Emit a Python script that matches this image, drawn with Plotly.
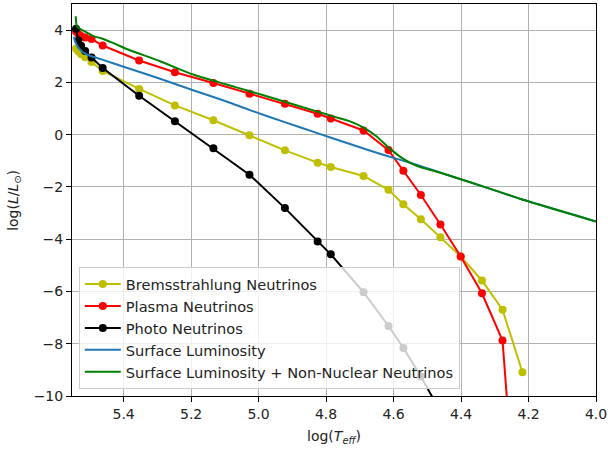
import plotly.graph_objects as go

# log(Teff) sample points of the neutrino series
logT = [5.541, 5.534, 5.526, 5.514, 5.495, 5.462, 5.354, 5.248, 5.134, 5.027,
        4.922, 4.825, 4.786, 4.689, 4.615, 4.571, 4.519, 4.461, 4.401, 4.338,
        4.277, 4.218]
brems = [3.30, 3.18, 3.08, 2.96, 2.78, 2.44, 1.75, 1.12, 0.55, -0.02,
         -0.60, -1.07, -1.24, -1.58, -2.11, -2.66, -3.24, -3.93, -4.66, -5.58,
         -6.70, -9.09]
plasma = [3.95, 3.85, 3.78, 3.72, 3.66, 3.41, 2.84, 2.39, 1.98, 1.57,
          1.18, 0.80, 0.62, 0.16, -0.59, -1.38, -2.31, -3.44, -4.66, -6.07,
          -7.88, -18.0]
photo_T = logT[:18]
photo = [4.05, 3.60, 3.40, 3.20, 2.95, 2.55, 1.49, 0.51, -0.52, -1.53,
         -2.81, -4.09, -4.58, -6.03, -7.32, -8.16, -9.25, -10.6]

# surface luminosity curve
surf_T = [5.548, 5.543, 5.535, 5.520, 5.500, 5.470, 5.391, 5.292, 5.194, 5.095,
          5.026, 4.927, 4.828, 4.729, 4.631, 4.532, 4.482, 4.433, 4.300, 4.216, 4.000]
surf_L = [3.75, 3.55, 3.35, 3.15, 3.02, 2.90, 2.56, 2.14, 1.70, 1.27,
          0.94, 0.50, 0.07, -0.36, -0.77, -1.15, -1.36, -1.57, -2.13, -2.49, -3.32]

# surface + non-nuclear neutrinos
tot_T = [5.542, 5.538, 5.515, 5.490, 5.467, 5.432, 5.391, 5.292, 5.194, 5.095,
         5.026, 4.927, 4.828, 4.779, 4.729, 4.690, 4.650, 4.621, 4.601, 4.571,
         4.532, 4.482, 4.433, 4.300, 4.216, 4.000]
tot_L = [4.53, 4.14, 3.95, 3.77, 3.69, 3.51, 3.28, 2.81, 2.30, 1.92,
         1.66, 1.28, 0.89, 0.70, 0.51, 0.28, -0.07, -0.42, -0.64, -0.93,
         -1.19, -1.38, -1.57, -2.13, -2.49, -3.32]

x_ticks = [5.4, 5.2, 5.0, 4.8, 4.6, 4.4, 4.2, 4.0]
y_ticks = [-10, -8, -6, -4, -2, 0, 2, 4]

FONT = "DejaVu Sans"
FS = 14

fig = go.Figure()
fig.add_trace(go.Scatter(x=logT, y=brems, mode="lines+markers",
                         name="Bremsstrahlung Neutrinos",
                         line=dict(color="#bfbf00", width=2),
                         marker=dict(color="#bfbf00", size=8)))
fig.add_trace(go.Scatter(x=logT, y=plasma, mode="lines+markers",
                         name="Plasma Neutrinos",
                         line=dict(color="#ff0000", width=2),
                         marker=dict(color="#ff0000", size=8)))
fig.add_trace(go.Scatter(x=photo_T, y=photo, mode="lines+markers",
                         name="Photo Neutrinos",
                         line=dict(color="#000000", width=2),
                         marker=dict(color="#000000", size=8)))
fig.add_trace(go.Scatter(x=surf_T, y=surf_L, mode="lines",
                         name="Surface Luminosity",
                         line=dict(color="#1f77b4", width=2, shape="spline", smoothing=0.6)))
fig.add_trace(go.Scatter(x=tot_T, y=tot_L, mode="lines",
                         name="Surface Luminosity + Non-Nuclear Neutrinos",
                         line=dict(color="#008000", width=2, shape="spline", smoothing=0.6)))

axis_common = dict(
    automargin=False,
    showgrid=True, gridcolor="#b0b0b0", gridwidth=1,
    showline=True, linecolor="black", linewidth=1, mirror=True,
    ticks="outside", ticklen=5, tickcolor="black", tickwidth=1,
    tickfont=dict(family=FONT, size=FS, color="#222"),
    zeroline=False,
)

fig.update_layout(
    width=608, height=450,
    margin=dict(l=72, r=12, t=4, b=54),
    paper_bgcolor="white", plot_bgcolor="white",
    font=dict(family=FONT, size=FS, color="#222"),
    showlegend=True,
    legend=dict(x=0.013, y=0.018, xanchor="left", yanchor="bottom",
                bgcolor="rgba(255,255,255,0.8)", bordercolor="#cccccc",
                borderwidth=1, font=dict(family=FONT, size=14.6, color="#222"),
                itemwidth=36, tracegroupgap=0),
    xaxis=dict(range=[5.553, 4.0], tickvals=x_ticks,
               ticktext=[f"{v:.1f}" for v in x_ticks],
               **axis_common),
    yaxis=dict(range=[-10, 5], tickvals=y_ticks,
               ticktext=[("\u2212" + str(-v)) if v < 0 else str(v) for v in y_ticks],
               **axis_common),
    annotations=[
        dict(text="log(<i>T</i><sub><i>eff</i></sub>)", xref="paper", yref="paper",
             x=0.5, y=-0.104, xanchor="center", yanchor="middle", showarrow=False,
             font=dict(family=FONT, size=FS, color="#222")),
        dict(text="log(<i>L</i>/<i>L</i><sub>\u2299</sub>)", xref="paper", yref="paper",
             x=-0.111, y=0.5, xanchor="center", yanchor="middle", showarrow=False,
             textangle=-90, font=dict(family=FONT, size=FS, color="#222")),
    ],
)

fig.write_html("out.html", config={"displayModeBar": False},
               post_script="document.body.style.margin='0';document.body.style.overflow='hidden';")
